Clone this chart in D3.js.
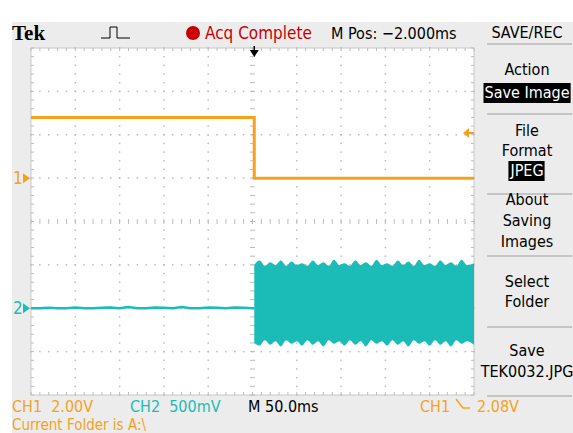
<!DOCTYPE html>
<html>
<head>
<meta charset="utf-8">
<script src="https://cdn.jsdelivr.net/npm/d3@7"></script>
<style>
  html, body { margin: 0; padding: 0; background: #fff; }
  svg { display: block; }
  text { font-family: "Liberation Sans Narrow", "DejaVu Sans Condensed", sans-serif; }
</style>
</head>
<body>
<svg width="573" height="433"></svg>
<script>
const svg = d3.select("svg");

// timebase 50 ms/div, 10 div
const timeDomain = [-250, 250];
const triggerTime = 2;

// CH1, 2.00 V/div, falling edge at the trigger
const ch1Time = [-250, 2, 2, 250];
const ch1Volts = [2.8, 2.8, 0, 0];

// CH2, 500 mV/div, quiet before the trigger
const ch2QuietTime = [-250, -240, -230, -220, -210, -200, -190, -180, -170, -160, -150, -140, -130, -120,
  -110, -100, -90, -80, -70, -60, -50, -40, -30, -20, -10, 0, 2];
const ch2QuietVolts = [0.00, 0.00, 0.005, 0.00, 0.00, 0.01, 0.00, 0.00, 0.005, 0.01, 0.00, 0.015, 0.00, 0.00,
  0.01, 0.005, 0.00, 0.015, 0.00, 0.00, 0.01, 0.005, 0.00, 0.01, 0.005, 0.00, 0.00];

// CH2 burst envelope after the trigger
const burstTime = [2, 8, 14, 20, 26, 32, 38, 44, 50, 56, 62, 68, 74, 80, 86, 92, 98, 104, 110, 116, 122,
  128, 134, 140, 146, 152, 158, 164, 170, 176, 182, 188, 194, 200, 206, 212, 218, 224, 230, 236, 242, 250];
const burstTop = [0.50, 0.55, 0.49, 0.53, 0.50, 0.55, 0.49, 0.54, 0.50, 0.52, 0.49, 0.55, 0.50, 0.53, 0.49,
  0.56, 0.50, 0.52, 0.49, 0.55, 0.50, 0.53, 0.49, 0.56, 0.50, 0.52, 0.49, 0.55, 0.50, 0.54, 0.49, 0.56,
  0.50, 0.52, 0.49, 0.55, 0.50, 0.53, 0.49, 0.56, 0.50, 0.52];
const burstBottom = [-0.40, -0.43, -0.37, -0.42, -0.38, -0.44, -0.37, -0.41, -0.38, -0.43, -0.37, -0.42,
  -0.38, -0.44, -0.37, -0.41, -0.38, -0.43, -0.37, -0.42, -0.38, -0.44, -0.37, -0.41, -0.38, -0.43, -0.37,
  -0.42, -0.38, -0.44, -0.37, -0.41, -0.38, -0.43, -0.37, -0.42, -0.38, -0.44, -0.37, -0.41, -0.38, -0.42];

const menuLabels = [
  { lines: ["SAVE/REC"], y: [38] },
  { lines: ["Action", "Save Image"], y: [75, 98], inverted: [false, true] },
  { lines: ["File", "Format", "JPEG"], y: [136, 156, 176], inverted: [false, false, true] },
  { lines: ["About", "Saving", "Images"], y: [205, 226, 247] },
  { lines: ["Select", "Folder"], y: [287, 307] },
  { lines: ["Save", "TEK0032.JPG"], y: [356, 377] }
];
const menuSeparators = [44, 114, 194, 256, 327, 396];

const orange = "#f7a21b";
const teal = "#1bbcb7";
const gridGrey = "#bcbcbc";

// screen background
svg.append("rect").attr("x", 12).attr("y", 22).attr("width", 561).attr("height", 411).attr("fill", "#ececec");

const X0 = 31, X1 = 474, Y0 = 48, Y1 = 395;
const x = d3.scaleLinear().domain(timeDomain).range([X0, X1]);
const yDiv = d3.scaleLinear().domain([-4, 4]).range([Y1, Y0]);
const y1 = v => yDiv(v / 2 + 1);
const y2 = v => yDiv(v / 0.5 - 2);

svg.append("rect").attr("x", X0).attr("y", Y0).attr("width", X1 - X0).attr("height", Y1 - Y0)
  .attr("fill", "#fff").attr("stroke", "#c8c8c8").attr("stroke-width", 1);

const grid = svg.append("g");
const divX = d3.range(0, 10.01, 0.2);
const divY = d3.range(0, 8.01, 0.2);
const xd = d3.scaleLinear().domain([0, 10]).range([X0, X1]);
const yd = d3.scaleLinear().domain([0, 8]).range([Y0, Y1]);

// dotted grid lines
for (let i = 1; i < 10; i++) {
  if (i === 5) continue;
  divY.forEach(t => grid.append("rect").attr("x", xd(i) - 0.75).attr("y", yd(t) - 0.75)
    .attr("width", 1.5).attr("height", 1.5).attr("fill", gridGrey));
}
for (let j = 1; j < 8; j++) {
  if (j === 4) continue;
  divX.forEach(t => grid.append("rect").attr("x", xd(t) - 0.75).attr("y", yd(j) - 0.75)
    .attr("width", 1.5).attr("height", 1.5).attr("fill", gridGrey));
}
// centre lines with ticks
divY.forEach(t => grid.append("line").attr("x1", xd(5) - 2.5).attr("x2", xd(5) + 2.5)
  .attr("y1", yd(t)).attr("y2", yd(t)).attr("stroke", gridGrey));
divX.forEach(t => grid.append("line").attr("y1", yd(4) - 2.5).attr("y2", yd(4) + 2.5)
  .attr("x1", xd(t)).attr("x2", xd(t)).attr("stroke", gridGrey));
// edge ticks
divX.forEach(t => {
  grid.append("line").attr("x1", xd(t)).attr("x2", xd(t)).attr("y1", Y0).attr("y2", Y0 + 3).attr("stroke", gridGrey);
  grid.append("line").attr("x1", xd(t)).attr("x2", xd(t)).attr("y1", Y1 - 3).attr("y2", Y1).attr("stroke", gridGrey);
});
divY.forEach(t => {
  grid.append("line").attr("y1", yd(t)).attr("y2", yd(t)).attr("x1", X0).attr("x2", X0 + 3).attr("stroke", gridGrey);
  grid.append("line").attr("y1", yd(t)).attr("y2", yd(t)).attr("x1", X1 - 3).attr("x2", X1).attr("stroke", gridGrey);
});

// CH2 traces
const quiet = ch2QuietTime.map((t, i) => [t, ch2QuietVolts[i]]);
svg.append("path")
  .attr("d", d3.line().x(d => x(d[0])).y(d => y2(d[1]))(quiet))
  .attr("fill", "none").attr("stroke", teal).attr("stroke-width", 2.5);

const burst = burstTime.map((t, i) => ({ t, hi: burstTop[i], lo: burstBottom[i] }));
svg.append("path")
  .attr("d", d3.area().x(d => x(d.t)).y0(d => y2(d.lo)).y1(d => y2(d.hi)).curve(d3.curveMonotoneX)(burst))
  .attr("fill", teal);

// CH1 trace
const ch1 = ch1Time.map((t, i) => [t, ch1Volts[i]]);
svg.append("path")
  .attr("d", d3.line().x(d => x(d[0])).y(d => y1(d[1]))(ch1))
  .attr("fill", "none").attr("stroke", orange).attr("stroke-width", 3);

// trigger position marker
const tx = x(triggerTime);
svg.append("line").attr("x1", tx).attr("x2", tx).attr("y1", 46).attr("y2", 55).attr("stroke", "#000").attr("stroke-width", 1.5);
svg.append("path").attr("d", `M${tx - 4.5},50 L${tx + 4.5},50 L${tx},57 Z`).attr("fill", "#000");

// trigger level marker (2.08 V)
const ty = y1(2.08);
svg.append("line").attr("x1", X1 - 8).attr("x2", X1).attr("y1", ty).attr("y2", ty).attr("stroke", orange).attr("stroke-width", 2);
svg.append("path").attr("d", `M${X1 - 11},${ty} L${X1 - 5},${ty - 5} L${X1 - 5},${ty + 5} Z`).attr("fill", orange);

// channel ground markers
[[y1(0), "1", orange], [y2(0), "2", teal]].forEach(([gy, lab, col]) => {
  svg.append("text").attr("x", 13).attr("y", gy + 6).attr("fill", col).style("font-size", "17px").text(lab);
  svg.append("path").attr("d", `M23,${gy - 5} L30,${gy} L23,${gy + 5} Z`).attr("fill", col);
});

// top status line
svg.append("text").attr("x", 12).attr("y", 40).style("font-family", "'Liberation Serif', serif")
  .style("font-weight", "bold").style("font-size", "21px").attr("fill", "#000").text("Tek");
svg.append("path").attr("d", "M101,38 H110 V27 H117 V38 H130").attr("fill", "none").attr("stroke", "#000").attr("stroke-width", 1);
svg.append("circle").attr("cx", 193).attr("cy", 33).attr("r", 7).attr("fill", "#c80000");
svg.append("text").attr("x", 205).attr("y", 39).attr("fill", "#c80000").style("font-size", "17px").text("Acq Complete");
svg.append("text").attr("x", 331).attr("y", 39).attr("fill", "#000").style("font-size", "16px").text("M Pos: \u22122.000ms");

// side menu
const menu = svg.append("g");
menuSeparators.forEach(sy => menu.append("line").attr("x1", 487).attr("x2", 572).attr("y1", sy).attr("y2", sy)
  .attr("stroke", "#b8b8b8").attr("stroke-width", 1.5));
menuLabels.forEach(m => {
  m.lines.forEach((ln, i) => {
    const inv = m.inverted && m.inverted[i];
    const t = menu.append("text").attr("x", 527).attr("y", m.y[i]).attr("text-anchor", "middle")
      .style("font-size", "16px").attr("fill", inv ? "#fff" : "#000").text(ln);
    if (inv) {
      const bb = t.node().getBBox();
      menu.insert("rect", "text").attr("x", bb.x - 1).attr("y", m.y[i] - 15).attr("width", bb.width + 2)
        .attr("height", 20).attr("fill", "#000");
    }
  });
});

// bottom readouts
const bottom = svg.append("g").style("font-size", "16px");
bottom.append("text").attr("x", 12).attr("y", 412).attr("fill", orange).attr("xml:space", "preserve").text("CH1  2.00V");
bottom.append("text").attr("x", 130).attr("y", 412).attr("fill", teal).attr("xml:space", "preserve").text("CH2  500mV");
bottom.append("text").attr("x", 248).attr("y", 412).attr("fill", "#000").text("M 50.0ms");
bottom.append("text").attr("x", 420).attr("y", 412).attr("fill", orange).text("CH1");
bottom.append("path").attr("d", "M456,399 L463,408 H470").attr("fill", "none").attr("stroke", orange).attr("stroke-width", 1.5);
bottom.append("text").attr("x", 477).attr("y", 412).attr("fill", orange).text("2.08V");
bottom.append("text").attr("x", 12).attr("y", 430).attr("fill", orange).style("font-size", "15px").text("Current Folder is A:\\");
</script>
</body>
</html>
